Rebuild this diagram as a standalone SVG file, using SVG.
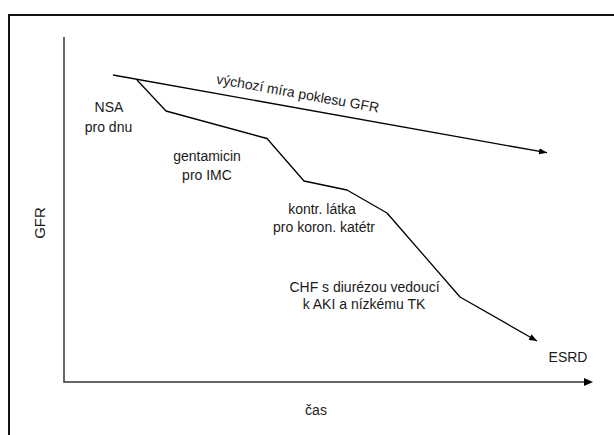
<svg xmlns="http://www.w3.org/2000/svg" width="614" height="435" viewBox="0 0 614 435">
  <style>
    .frame { fill: none; stroke: #111; stroke-width: 2; }
    .axis { fill: none; stroke: #333; stroke-width: 1.5; }
    .trend { fill: none; stroke: #000; stroke-width: 1.3; stroke-linejoin: round; }
    text { font-family: "Liberation Sans", Arial, sans-serif; font-size: 14px; fill: #1a1a1a; text-anchor: middle; }
  </style>
  <defs>
    <marker id="arrow" viewBox="0 0 10 8" refX="10" refY="4" markerWidth="8" markerHeight="6.4" markerUnits="userSpaceOnUse" orient="auto">
      <path d="M0,0 L10,4 L0,8 Z" fill="#000"/>
    </marker>
  </defs>

  <rect width="614" height="435" fill="#fff"/>

  <!-- outer frame: top and left edges only -->
  <path class="frame" d="M9,435 V15 H614"/>

  <!-- axes -->
  <g id="axes">
    <path class="axis" d="M64,37 V382 H584"/>
    <path d="M584,378 L593,382 L584,386 Z" fill="#000"/>
  </g>

  <g id="connectors">
    <!-- baseline rate of GFR decline -->
    <line class="trend" x1="113" y1="75" x2="547" y2="152.7" marker-end="url(#arrow)"/>
    <!-- stepwise decline after each insult -->
    <polyline class="trend" points="137,80 166,111 267,138.5 304,181 347,190 387,213 460,297 537,341" marker-end="url(#arrow)"/>
  </g>

  <g id="label-baseline">
    <text transform="translate(297,98) rotate(10.2)">výchozí míra poklesu GFR</text>
  </g>
  <g id="label-nsa">
    <text x="109" y="111.7">NSA</text>
    <text x="108.5" y="131.5">pro dnu</text>
  </g>
  <g id="label-gentamicin">
    <text x="207" y="160.5">gentamicin</text>
    <text x="207" y="180">pro IMC</text>
  </g>
  <g id="label-contrast">
    <text x="322" y="214">kontr. látka</text>
    <text x="324" y="231.5">pro koron. katétr</text>
  </g>
  <g id="label-chf">
    <text x="364.5" y="291.5">CHF s diurézou vedoucí</text>
    <text x="364" y="309">k AKI a nízkému TK</text>
  </g>
  <g id="label-esrd">
    <text x="568" y="361.5">ESRD</text>
  </g>
  <g id="label-y">
    <text transform="translate(45,223) rotate(-90)" style="font-size:15px">GFR</text>
  </g>
  <g id="label-x">
    <text x="316" y="415">čas</text>
  </g>
</svg>
